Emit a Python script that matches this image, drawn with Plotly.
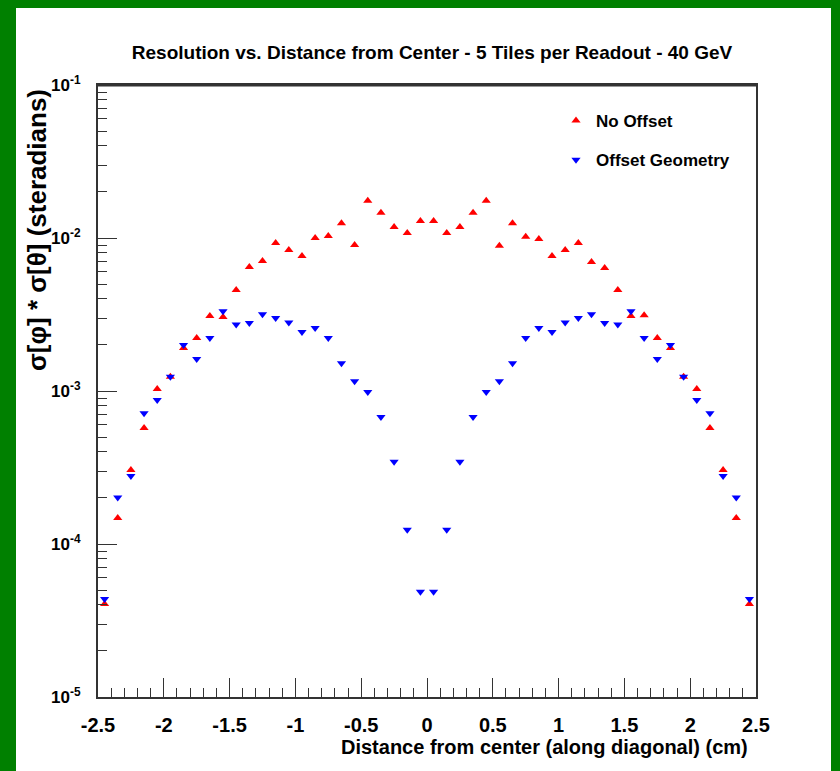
import plotly.graph_objects as go

# ---- data ----
x_centers = [-2.45, -2.35, -2.25, -2.15, -2.05, -1.95, -1.85, -1.75, -1.65, -1.55,
             -1.45, -1.35, -1.25, -1.15, -1.05, -0.95, -0.85, -0.75, -0.65, -0.55,
             -0.45, -0.35, -0.25, -0.15, -0.05, 0.05, 0.15, 0.25, 0.35, 0.45,
             0.55, 0.65, 0.75, 0.85, 0.95, 1.05, 1.15, 1.25, 1.35, 1.45,
             1.55, 1.65, 1.75, 1.85, 1.95, 2.05, 2.15, 2.25, 2.35, 2.45]

no_offset = [4.05e-5, 1.48e-4, 3.05e-4, 5.73e-4, 1.03e-3, 1.24e-3, 1.91e-3, 2.22e-3, 3.09e-3, 3.05e-3,
             4.57e-3, 6.46e-3, 7.08e-3, 9.27e-3, 8.36e-3, 7.62e-3, 1.00e-2, 1.03e-2, 1.25e-2, 9.0e-3,
             1.75e-2, 1.46e-2, 1.18e-2, 1.08e-2, 1.29e-2, 1.29e-2, 1.08e-2, 1.18e-2, 1.46e-2, 1.75e-2,
             8.9e-3, 1.25e-2, 1.02e-2, 9.85e-3, 7.62e-3, 8.36e-3, 9.27e-3, 6.97e-3, 6.37e-3, 4.57e-3,
             3.09e-3, 3.13e-3, 2.22e-3, 1.91e-3, 1.24e-3, 1.03e-3, 5.73e-4, 3.05e-4, 1.48e-4, 4.05e-5]

offset_geom = [4.37e-5, 2.01e-4, 2.78e-4, 7.15e-4, 8.73e-4, 1.24e-3, 2.0e-3, 1.62e-3, 2.22e-3, 3.32e-3,
               2.72e-3, 2.78e-3, 3.18e-3, 3.0e-3, 2.80e-3, 2.43e-3, 2.58e-3, 2.22e-3, 1.52e-3, 1.16e-3,
               9.84e-4, 6.76e-4, 3.45e-4, 1.24e-4, 4.88e-5, 4.88e-5, 1.24e-4, 3.45e-4, 6.76e-4, 9.84e-4,
               1.16e-3, 1.52e-3, 2.22e-3, 2.58e-3, 2.43e-3, 2.80e-3, 3.0e-3, 3.18e-3, 2.78e-3, 2.72e-3,
               3.32e-3, 2.22e-3, 1.62e-3, 2.0e-3, 1.24e-3, 8.73e-4, 7.15e-4, 2.78e-4, 2.01e-4, 4.37e-5]

x_tick_vals = [-2.5, -2, -1.5, -1, -0.5, 0, 0.5, 1, 1.5, 2, 2.5]
x_tick_text = ["-2.5", "-2", "-1.5", "-1", "-0.5", "0", "0.5", "1", "1.5", "2", "2.5"]
y_tick_vals = [1e-5, 1e-4, 1e-3, 1e-2, 1e-1]
y_tick_text = ["10<sup>-5</sup>", "10<sup>-4</sup>", "10<sup>-3</sup>", "10<sup>-2</sup>", "10<sup>-1</sup>"]

title_text = "Resolution vs. Distance from Center - 5 Tiles per Readout - 40 GeV"
x_title = "Distance from center (along diagonal) (cm)"
y_title = "σ[φ] * σ[θ] (steradians)"

FONT = "Liberation Sans"
AX = "#333333"

minor_y = [m * 10.0 ** e for e in range(-5, -1) for m in range(2, 10)]

fig = go.Figure()
fig.add_trace(go.Scatter(
    x=x_centers, y=no_offset, mode="markers", name="No Offset",
    legendgroup="a",
    marker=dict(symbol="triangle-up", size=8, color="#ff0000"),
))
fig.add_trace(go.Scatter(
    x=x_centers, y=offset_geom, mode="markers", name="Offset Geometry",
    legendgroup="b",
    marker=dict(symbol="triangle-down", size=8, color="#0000ff"),
))

# page geometry helpers (plot area 98..756 x, 85..697 y)
L, R, T, B = 98, 756, 85, 697
W, H = R - L, B - T
def px(xp):
    return (xp - L) / W
def py(yp):
    return 1 - (yp - T) / H

fig.add_shape(type="rect", xref="paper", yref="paper",
              x0=px(16), x1=px(831), y0=py(790), y1=py(8),
              fillcolor="white", line=dict(width=0), layer="below")

fig.update_layout(
    width=840, height=771,
    margin=dict(l=L, r=840 - R, t=T, b=771 - B, pad=0),
    paper_bgcolor="#008000",
    plot_bgcolor="rgba(0,0,0,0)",
    showlegend=True,
    legend=dict(
        x=px(556), y=py(103), xanchor="left", yanchor="top",
        bgcolor="rgba(0,0,0,0)", borderwidth=0,
        font=dict(family=FONT, size=17, color="black", weight="bold"),
        tracegroupgap=14, itemwidth=30,
    ),
    title=dict(
        text=title_text, x=px(432), xref="paper", xanchor="center",
        y=1 - 52 / 771, yref="container", yanchor="middle",
        font=dict(family=FONT, size=19, color="black", weight="bold"),
    ),
    xaxis=dict(
        range=[-2.5, 2.5], tickvals=x_tick_vals, ticktext=x_tick_text,
        ticks="inside", ticklen=19, tickwidth=1, tickcolor=AX,
        minor=dict(dtick=0.1, ticks="inside", ticklen=9, tickwidth=1, tickcolor=AX, showgrid=False),
        showline=True, linecolor=AX, linewidth=2, mirror=True,
        showgrid=False, zeroline=False,
        tickfont=dict(family=FONT, size=20, color="black", weight="bold"),
        ticklabelstandoff=9,
    ),
    yaxis=dict(
        type="log", range=[-5, -1], tickvals=y_tick_vals, ticktext=y_tick_text,
        ticks="inside", ticklen=19, tickwidth=1, tickcolor=AX,
        minor=dict(tickvals=minor_y, ticks="inside", ticklen=9, tickwidth=1, tickcolor=AX, showgrid=False),
        showline=True, linecolor=AX, linewidth=2, mirror=True,
        showgrid=False, zeroline=False,
        tickfont=dict(family=FONT, size=17, color="black", weight="bold"),
        ticklabelstandoff=12,
    ),
)

fig.add_annotation(text=x_title, xref="paper", yref="paper",
                   x=px(750), y=py(747), xanchor="right", yanchor="middle",
                   showarrow=False,
                   font=dict(family=FONT, size=20, color="black", weight="bold"))
fig.add_annotation(text=y_title, xref="paper", yref="paper",
                   x=px(37), y=py(87), xanchor="center", yanchor="top",
                   textangle=-90, showarrow=False,
                   font=dict(family=FONT, size=26, color="black", weight="bold"))

# thicker top frame
fig.add_shape(type="line", xref="paper", yref="paper", x0=0, x1=1, y0=1, y1=1,
              line=dict(color=AX, width=3))

fig.write_html("out.html")
